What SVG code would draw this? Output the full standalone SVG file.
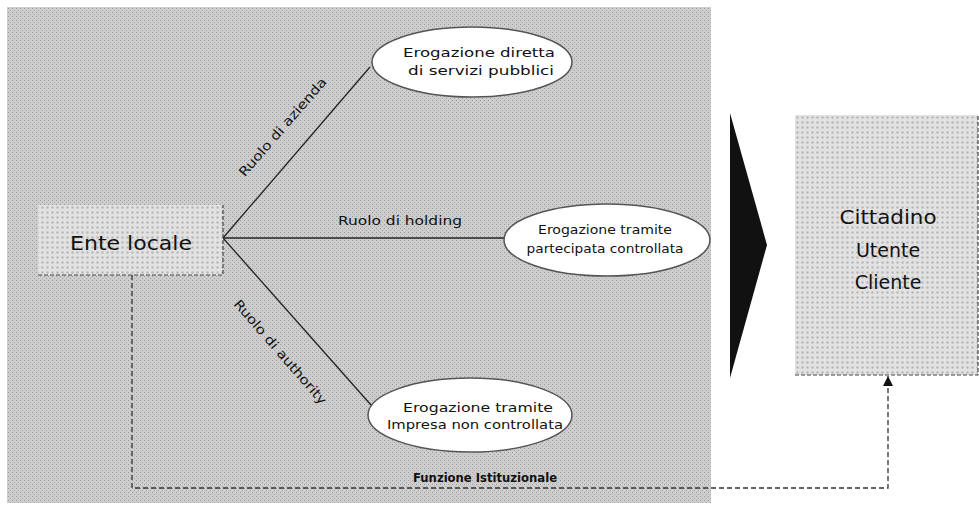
<svg xmlns="http://www.w3.org/2000/svg" width="979" height="518" viewBox="0 0 979 518">
<style>
text{font-family:"DejaVu Sans","Liberation Sans",Arial,sans-serif;fill:#111}
.ell{fill:#fff;stroke:#555;stroke-width:1.5}
.et{font-size:13px;text-anchor:middle}
.lbl{font-size:13px}
.conn{stroke:#222;stroke-width:1.3;fill:none}
.dash{stroke:#333;stroke-width:1.3;fill:none;stroke-dasharray:5 3}
</style>
<defs>
<pattern id="tex" width="4" height="4" patternUnits="userSpaceOnUse">
<rect width="4" height="4" fill="#cdcdcd"/>
<rect x="0" y="0" width="1" height="1" fill="#9c9c9c"/>
<rect x="2" y="2" width="1" height="1" fill="#a8a8a8"/>
</pattern>
<pattern id="dots" width="5" height="5" patternUnits="userSpaceOnUse">
<rect width="5" height="5" fill="#e2e2e2"/>
<circle cx="2.5" cy="2.5" r="1.2" fill="#b8b8b8"/>
</pattern>
<marker id="arr" markerWidth="10" markerHeight="10" refX="10" refY="5" orient="auto" markerUnits="userSpaceOnUse">
<path d="M0,0 L10,5 L0,10 Z" fill="#111"/>
</marker>
</defs>
<rect id="panel" x="7" y="7" width="704" height="496" fill="url(#tex)"/>
<g id="connectors">
<line class="conn" x1="223" y1="238" x2="370" y2="67"/>
<line class="conn" x1="223" y1="238" x2="505" y2="238"/>
<line class="conn" x1="223" y1="238" x2="371" y2="405"/>
<polyline class="dash" points="132,275 132,488 888,488 888,376" marker-end="url(#arr)"/>
<text class="lbl" transform="translate(286,130) rotate(-49)" text-anchor="middle" textLength="126" lengthAdjust="spacingAndGlyphs">Ruolo di azienda</text>
<text class="lbl" x="338" y="225" textLength="124" lengthAdjust="spacingAndGlyphs">Ruolo di holding</text>
<text class="lbl" transform="translate(277,355) rotate(49)" text-anchor="middle" textLength="134" lengthAdjust="spacingAndGlyphs">Ruolo di authority</text>
<text x="413" y="482" font-size="12" font-weight="bold" textLength="144" lengthAdjust="spacingAndGlyphs">Funzione Istituzionale</text>
</g>
<g id="ente">
<rect x="38" y="205" width="185" height="70" fill="url(#dots)"/>
<path d="M38,275 H223 V205" fill="none" stroke="#444" stroke-width="1.2" stroke-dasharray="4 2"/>
<text x="131" y="250" font-size="20" text-anchor="middle" textLength="122" lengthAdjust="spacingAndGlyphs">Ente locale</text>
</g>
<g id="e1">
<ellipse class="ell" cx="472" cy="62" rx="100" ry="35"/>
<text class="et" x="479" y="57" textLength="152" lengthAdjust="spacingAndGlyphs">Erogazione diretta</text>
<text class="et" x="481" y="75" textLength="146" lengthAdjust="spacingAndGlyphs">di servizi pubblici</text>
</g>
<g id="e2">
<ellipse class="ell" cx="607" cy="240" rx="103" ry="36"/>
<text class="et" x="605" y="234" font-size="12.5" textLength="134" lengthAdjust="spacingAndGlyphs">Erogazione tramite</text>
<text class="et" x="605" y="253" font-size="12.5" textLength="157" lengthAdjust="spacingAndGlyphs">partecipata controllata</text>
</g>
<g id="e3">
<ellipse class="ell" cx="470" cy="415" rx="102" ry="37"/>
<text class="et" x="478" y="412" font-size="14" textLength="150" lengthAdjust="spacingAndGlyphs">Erogazione tramite</text>
<text class="et" x="475" y="429" font-size="14" textLength="176" lengthAdjust="spacingAndGlyphs">Impresa non controllata</text>
</g>
<g id="chevron">
<polygon points="730,113 767,245 730,378" fill="#111"/>
</g>
<g id="cittadino">
<rect x="795" y="115" width="183" height="260" fill="url(#dots)"/>
<path d="M795,375 H978 V115" fill="none" stroke="#444" stroke-width="1.2" stroke-dasharray="4 2"/>
<text x="888" y="224" font-size="19" text-anchor="middle" textLength="97" lengthAdjust="spacingAndGlyphs">Cittadino</text>
<text x="888" y="257" font-size="19" text-anchor="middle">Utente</text>
<text x="888" y="289" font-size="19" text-anchor="middle">Cliente</text>
</g>
</svg>
